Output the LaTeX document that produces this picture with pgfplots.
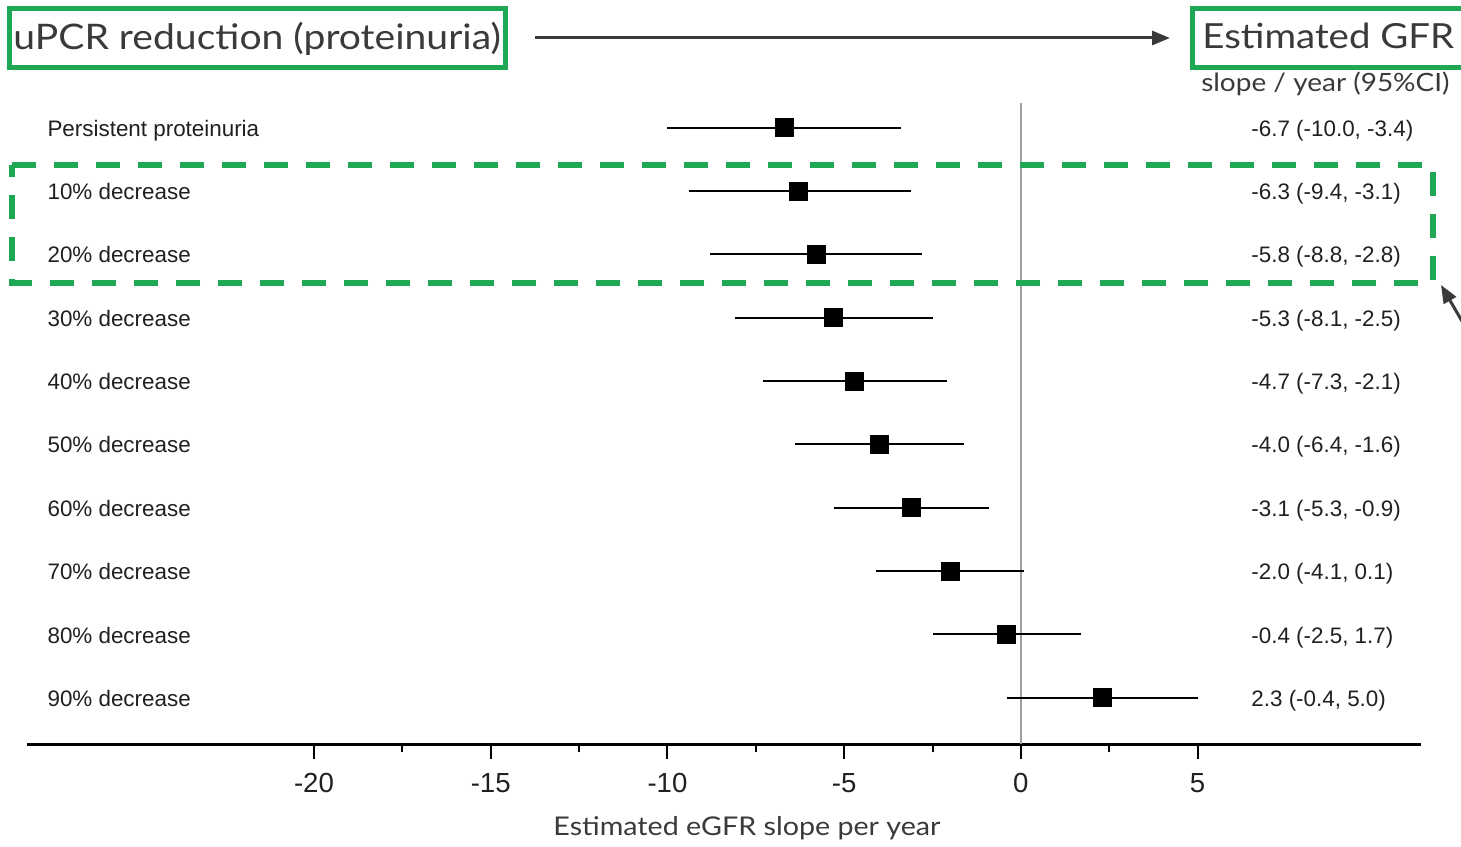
\documentclass[border=0pt]{standalone}
\usepackage{fontspec}
\setmainfont{Liberation Sans}
\newfontfamily\hdfont[FakeStretch=1.11]{Lato}
\usepackage{pgfplots}
\usepackage{pgfplotstable}
\pgfplotsset{compat=1.18}
\usetikzlibrary{arrows.meta}
\definecolor{grn}{HTML}{1FA853}
\definecolor{dk}{HTML}{3A3A3A}
\definecolor{txt}{HTML}{202020}

% row: 10 = top (persistent proteinuria) ... 1 = 90% decrease
\pgfplotstableread{
row est lo hi
10 -6.7 -10.0 -3.4
9 -6.3 -9.4 -3.1
8 -5.8 -8.8 -2.8
7 -5.3 -8.1 -2.5
6 -4.7 -7.3 -2.1
5 -4.0 -6.4 -1.6
4 -3.1 -5.3 -0.9
3 -2.0 -4.1 0.1
2 -0.4 -2.5 1.7
1 2.3 -0.4 5.0
}\slopes

\newcommand{\rowlab}[2]{\node[anchor=base west, inner sep=0, yshift=-4.3pt, text=txt,
  font=\fontsize{11.2}{13}\selectfont] at (axis cs:-27.55,#1) {#2};}
\newcommand{\vallab}[2]{\node[anchor=base west, inner sep=0, yshift=-4.3pt, text=txt,
  font=\fontsize{11.2}{13}\selectfont] at (axis cs:6.51,#1) {#2};}

\begin{document}
\begin{tikzpicture}
% pixel grid of the reference: 1 px = 0.5pt, y downwards
\begin{scope}[x=0.5pt, y=-0.5pt]
\useasboundingbox (0,0) rectangle (1461,840);
\draw[grn, line width=2.5pt] (9.5,8.5) rectangle (505.5,67.5);
\node[anchor=base west, inner sep=0, text=dk, font=\hdfont\fontsize{17.6}{20}\selectfont]
  at (13,50) {uPCR reduction (proteinuria)};
\draw[grn, line width=2.5pt] (1192.5,8.5) rectangle (1470,67.5);
\node[anchor=base west, inner sep=0, text=dk, font=\hdfont\fontsize{17.3}{20}\selectfont]
  at (1202,49) {Estimated GFR};
\node[anchor=base east, inner sep=0, text=dk, font=\hdfont\fontsize{12.6}{14}\selectfont]
  at (1450,92) {slope / year (95\%CI)};
\draw[dk, line width=1.5pt, -{Triangle[length=9pt, width=7pt]}] (535,38) -- (1170,38);
\draw[dk, line width=1.5pt, -{Triangle[length=9pt, width=7pt]}] (1470,335) -- (1441,285);
\end{scope}

\begin{axis}[
    scale only axis, width=697pt, height=320.5pt,
    at={(13.5pt,-372pt)}, anchor=south west,
    xmin=-28.12, xmax=11.32, ymin=0.27, ymax=10.39,
    axis x line*=bottom, axis y line=none,
    axis line style={line width=1.5pt, black},
    xtick={-20,-15,-10,-5,0,5},
    minor xtick={-17.5,-12.5,-7.5,-2.5,2.5},
    tick align=outside,
    major tick length=7.5pt, minor tick length=4pt,
    every tick/.style={line width=1pt, black},
    xticklabel style={font=\fontsize{13.8}{16}\selectfont, text=txt, yshift=-3.5pt},
    /pgf/number format/assume math mode=true,
    xlabel={Estimated eGFR slope per year},
    xlabel style={font=\hdfont\fontsize{12.9}{15}\selectfont, text=dk,
      at={(axis description cs:0.5165,0)}, anchor=base, yshift=-45.5pt},
    clip=false,
]
\addplot[draw=gray!75, line width=1.2pt] coordinates {(0,0.27) (0,10.39)};
\addplot[only marks, mark=square*, mark size=4.5pt, black,
    error bars/.cd, x dir=both, x explicit, error mark=none,
    error bar style={line width=1pt, black}]
  table[x=est, y=row,
        x error plus expr=\thisrow{hi}-\thisrow{est},
        x error minus expr=\thisrow{est}-\thisrow{lo}] {\slopes};
\rowlab{10}{Persistent proteinuria}
\rowlab{9}{10\% decrease}
\rowlab{8}{20\% decrease}
\rowlab{7}{30\% decrease}
\rowlab{6}{40\% decrease}
\rowlab{5}{50\% decrease}
\rowlab{4}{60\% decrease}
\rowlab{3}{70\% decrease}
\rowlab{2}{80\% decrease}
\rowlab{1}{90\% decrease}
\vallab{10}{-6.7 (-10.0, -3.4)}
\vallab{9}{-6.3 (-9.4, -3.1)}
\vallab{8}{-5.8 (-8.8, -2.8)}
\vallab{7}{-5.3 (-8.1, -2.5)}
\vallab{6}{-4.7 (-7.3, -2.1)}
\vallab{5}{-4.0 (-6.4, -1.6)}
\vallab{4}{-3.1 (-5.3, -0.9)}
\vallab{3}{-2.0 (-4.1, 0.1)}
\vallab{2}{-0.4 (-2.5, 1.7)}
\vallab{1}{2.3 (-0.4, 5.0)}
\end{axis}

\begin{scope}[x=0.5pt, y=-0.5pt]
\draw[grn, line width=3pt, dash pattern=on 12pt off 9pt] (12,165) -- (1433,165) -- (1433,283) -- (12,283) -- cycle;
\end{scope}
\end{tikzpicture}
\end{document}
